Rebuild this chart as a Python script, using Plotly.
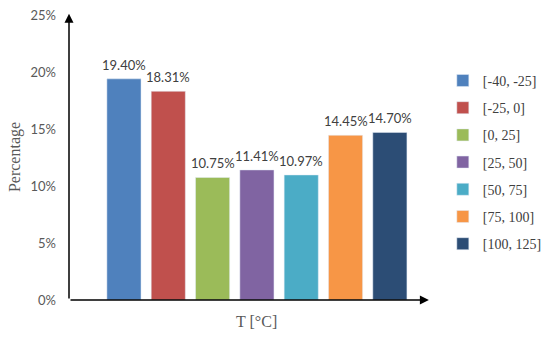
import plotly.graph_objects as go

categories = ["[-40, -25]", "[-25, 0]", "[0, 25]", "[25, 50]", "[50, 75]", "[75, 100]", "[100, 125]"]
values = [19.40, 18.31, 10.75, 11.41, 10.97, 14.45, 14.70]
colors = ["#4F81BD", "#C0504D", "#9BBB59", "#8064A2", "#4BACC6", "#F79646", "#2C4D75"]
y_ticks = [0, 5, 10, 15, 20, 25]
y_tick_labels = [f"{t}%" for t in y_ticks]

fig = go.Figure()
for i, (cat, v, c) in enumerate(zip(categories, values, colors)):
    fig.add_trace(go.Bar(
        x=[i], y=[v], name=cat, marker_color=c, width=0.77,
        legendgroup=cat,
    ))
    fig.add_annotation(x=i, y=v, text=f"{v:.2f}%", showarrow=False,
                       xref="x", yref="y", yanchor="bottom", yshift=4,
                       font=dict(family="Lato", size=13, color="#404040"))

fig.update_layout(
    width=550, height=340,
    margin=dict(l=69, r=130, t=15, b=40, autoexpand=False),
    plot_bgcolor="white", paper_bgcolor="white",
    barmode="overlay",
    showlegend=True,
    legend=dict(x=1.065, y=0.825, xanchor="left", yanchor="top",
                font=dict(family="Liberation Serif", size=14, color="#404040"),
                tracegroupgap=6, itemwidth=30, bgcolor="rgba(0,0,0,0)"),
    xaxis=dict(range=[-1.24, 6.68], showticklabels=False, showgrid=False,
               zeroline=False, showline=False, ticks=""),
    yaxis=dict(range=[0, 25], tickmode="array", tickvals=y_ticks, ticktext=y_tick_labels,
               showgrid=False, zeroline=False, showline=False, ticks="",
               tickfont=dict(family="Lato", size=13, color="#595959"),
               ticklabelstandoff=12),
)

# Axis arrows
fig.add_annotation(x=6.88, y=0, ax=-1.24, ay=0, xref="x", yref="y", axref="x", ayref="y",
                   text="", showarrow=True, arrowhead=2, arrowsize=1.2, arrowwidth=1.5,
                   arrowcolor="black")
fig.add_annotation(x=-1.24, y=25.1, ax=-1.24, ay=0, xref="x", yref="y", axref="x", ayref="y",
                   text="", showarrow=True, arrowhead=2, arrowsize=1.2, arrowwidth=1.5,
                   arrowcolor="black")

# Axis titles
fig.add_annotation(text="T [°C]", x=2.98, y=-0.04, xref="x", yref="paper",
                   yanchor="top", showarrow=False,
                   font=dict(family="Liberation Serif", size=16, color="#595959"))
fig.add_annotation(text="Percentage", x=-0.155, y=0.5, xref="paper", yref="paper",
                   textangle=-90, showarrow=False, xanchor="center",
                   font=dict(family="Liberation Serif", size=16, color="#595959"))

fig.write_html("out.html", config={"displayModeBar": False},
               post_script="document.body.style.margin='0';")
